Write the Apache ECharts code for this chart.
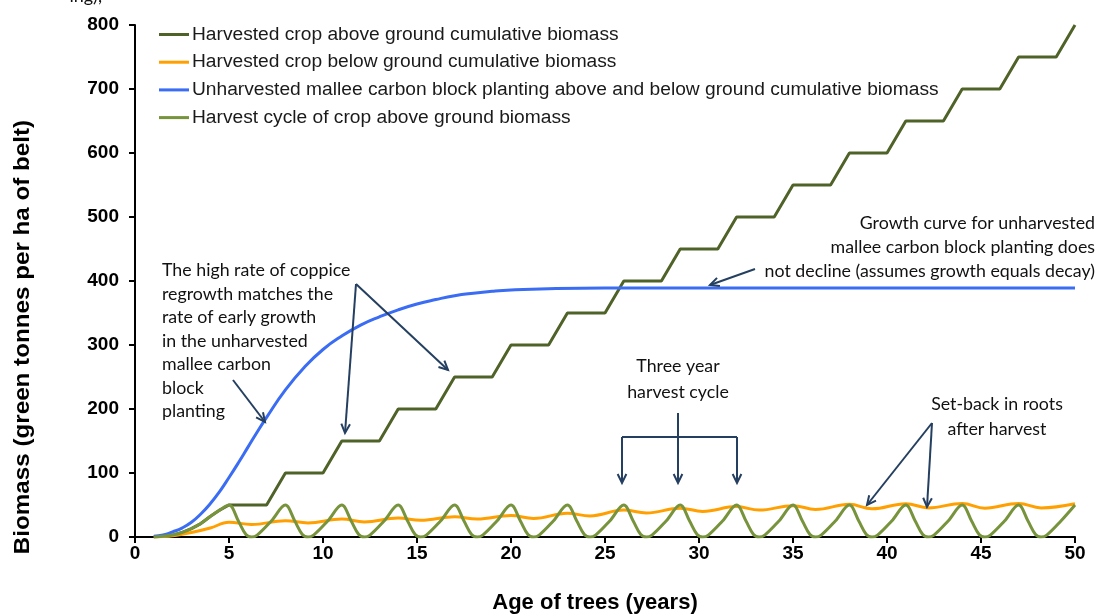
<!DOCTYPE html>
<html>
<head>
<meta charset="utf-8">
<script src="https://cdn.jsdelivr.net/npm/echarts@6/dist/echarts.min.js"></script>
<style>
html,body{margin:0;padding:0;background:#fff;}
#c{width:1101px;height:615px;}
</style>
</head>
<body>
<div id="c"></div>
<script>
// ---- Data: [age (years), biomass (green t/ha)] ----
const xTicks = [0, 5, 10, 15, 20, 25, 30, 35, 40, 45, 50];
const yTicks = [0, 100, 200, 300, 400, 500, 600, 700, 800];

const seriesNames = [
  'Harvested crop above ground cumulative biomass',
  'Harvested crop below ground cumulative biomass',
  'Unharvested mallee carbon block planting above and below ground cumulative biomass',
  'Harvest cycle of crop above ground biomass'
];

const aboveCumulative = [
  [1,0],[1.5,1],[2,3],[2.5,7],[3,13],[3.5,21],[4,32],[4.5,42],[5,50],
  [7,50],[8,100],[10,100],[11,150],[13,150],[14,200],[16,200],[17,250],
  [19,250],[20,300],[22,300],[23,350],[25,350],[26,400],[28,400],[29,450],
  [31,450],[32,500],[34,500],[35,550],[37,550],[38,600],[40,600],[41,650],
  [43,650],[44,700],[46,700],[47,750],[49,750],[50,800]
];

const belowCumulative = [
  [1,0],[2,2],[3,7],[4,14],[5,23],[6.2,19.5],[8,25.5],[9.2,22],[11,28],
  [12.2,23.5],[14,29.5],[15.2,26],[17,31.5],[18.2,28],[20,33.5],[21.2,29],
  [23,37],[24.2,33],[26,42],[27.2,37.5],[29,45],[30.2,40],[32,47.5],
  [33.2,42],[35,49],[36.2,43],[38,51],[39.2,44],[41,52],[42.2,45.5],
  [44,52.5],[45.2,45],[47,52.5],[48.2,45.5],[50,52]
];

const unharvested = [
  [1,1],[1.5,3],[2,8],[2.5,14],[3,23],[3.5,36],[4,52],[4.5,71],[5,93],
  [5.5,116],[6,140],[6.5,164],[7,187],[8,230],[9,265],
  [10,293],[11,314],[12,331],[13,344],[14,355],[15,364],[16,371],[17,377],
  [18,381],[19,384],[20,386],[22,388],[25,389],[30,389],[40,389],[50,389]
];

const harvestCycle = [
  [1,0],[1.5,1],[2,3],[2.5,7],[3,13],[3.5,21],[4,32],[4.5,42],[5,50],
  [5.5,25],[5.9,4],[6.2,0],[6.5,3],[7.25,25],[8,50],
  [8.5,25],[8.9,4],[9.2,0],[9.5,3],[10.25,25],[11,50],
  [11.5,25],[11.9,4],[12.2,0],[12.5,3],[13.25,25],[14,50],
  [14.5,25],[14.9,4],[15.2,0],[15.5,3],[16.25,25],[17,50],
  [17.5,25],[17.9,4],[18.2,0],[18.5,3],[19.25,25],[20,50],
  [20.5,25],[20.9,4],[21.2,0],[21.5,3],[22.25,25],[23,50],
  [23.5,25],[23.9,4],[24.2,0],[24.5,3],[25.25,25],[26,50],
  [26.5,25],[26.9,4],[27.2,0],[27.5,3],[28.25,25],[29,50],
  [29.5,25],[29.9,4],[30.2,0],[30.5,3],[31.25,25],[32,50],
  [32.5,25],[32.9,4],[33.2,0],[33.5,3],[34.25,25],[35,50],
  [35.5,25],[35.9,4],[36.2,0],[36.5,3],[37.25,25],[38,50],
  [38.5,25],[38.9,4],[39.2,0],[39.5,3],[40.25,25],[41,50],
  [41.5,25],[41.9,4],[42.2,0],[42.5,3],[43.25,25],[44,50],
  [44.5,25],[44.9,4],[45.2,0],[45.5,3],[46.25,25],[47,50],
  [47.5,25],[47.9,4],[48.2,0],[48.5,3],[49.25,25],[50,50]
];

const colors = ['#4F6228', '#FFA000', '#3A6CF4', '#77933C'];

// ---- Annotation helpers (pixel geometry of callout arrows) ----
const ARROW = '#243F60';
const annoFont = '17.8px Lato, "Open Sans", sans-serif';
function seg(x1, y1, x2, y2) {
  return {type:'line', silent:true, z:10, shape:{x1, y1, x2, y2},
          style:{stroke:ARROW, lineWidth:2}};
}
function arrow(x1, y1, x2, y2) {
  const a = Math.atan2(y2 - y1, x2 - x1), L = 10, w = 0.45;
  const p1 = [x2 - L*Math.cos(a - w), y2 - L*Math.sin(a - w)];
  const p2 = [x2 - L*Math.cos(a + w), y2 - L*Math.sin(a + w)];
  return [seg(x1, y1, x2, y2),
    {type:'polyline', silent:true, z:10, shape:{points:[p1, [x2, y2], p2]},
     style:{stroke:ARROW, lineWidth:2, fill:null}}];
}
function txt(x, y, text, align, lineHeight) {
  return {type:'text', silent:true, z:10, x, y,
    style:{text, font: annoFont, fill:'#111', align, verticalAlign:'top',
           textAlign:align, textVerticalAlign:'top', lineHeight}};
}
const titleFont = 'bold 22px "Liberation Sans", Arial, sans-serif';

const graphics = [].concat(
  txt(162, 259, 'The high rate of coppice\nregrowth matches the\nrate of early growth\nin the unharvested\nmallee carbon\nblock\nplanting', 'left', 23.5),
  txt(1095, 211, 'Growth curve for unharvested\nmallee carbon block planting does\nnot decline (assumes growth equals decay)', 'right', 24),
  txt(678, 353, 'Three year\nharvest cycle', 'center', 26),
  txt(997, 392, 'Set-back in roots\nafter harvest', 'center', 25),
  arrow(233, 380, 265, 422),
  arrow(356, 284, 345, 433),
  arrow(356, 284, 448, 370),
  arrow(755, 269, 710, 285),
  [seg(678, 413, 678, 437), seg(622, 437, 737, 437)],
  arrow(622, 437, 622, 483),
  arrow(678, 437, 678, 483),
  arrow(737, 437, 737, 483),
  arrow(932, 423, 867, 505),
  arrow(932, 423, 927, 507),
  [{type:'text', silent:true, x:102, y:5,
    style:{text:'ing),', font:'18px Lato, sans-serif', fill:'#111', align:'right',
           verticalAlign:'bottom', textAlign:'right', textVerticalAlign:'bottom'}}],
  [{type:'text', silent:true, x:595, y:603,
    style:{text:'Age of trees (years)', font:titleFont,
           fill:'#000', align:'center', verticalAlign:'middle',
           textAlign:'center', textVerticalAlign:'middle'}}],
  [{type:'text', silent:true, x:23, y:337, rotation:Math.PI/2, scaleX:1.1,
    style:{text:'Biomass (green tonnes per ha of belt)', font:titleFont,
           fill:'#000', align:'center', verticalAlign:'middle',
           textAlign:'center', textVerticalAlign:'middle'}}]
);

const axisCommon = {
  axisLine:{show:true, lineStyle:{color:'#000', width:2}},
  axisTick:{show:true, inside:false, length:6, lineStyle:{color:'#000', width:2}},
  splitLine:{show:false},
  axisLabel:{color:'#000', fontWeight:'bold', fontSize:19,
             fontFamily:'"Liberation Sans", Arial, sans-serif'}
};

const chart = echarts.init(document.getElementById('c'), null, {renderer:'canvas'});
chart.setOption({
  animation:false,
  backgroundColor:'#fff',
  color: colors,
  grid:{left:135, right:26, top:25, bottom:78, containLabel:false},
  legend:{
    orient:'vertical', left:159, top:25, padding:0,
    icon:'rect', itemWidth:30, itemHeight:3, itemGap:8.7,
    data: seriesNames,
    textStyle:{fontSize:19.2, color:'#1a1a1a', fontFamily:'"Liberation Sans", Arial, sans-serif',
               lineHeight:19, padding:[0,0,0,-2]}
  },
  xAxis: Object.assign({type:'value', min:xTicks[0], max:xTicks[xTicks.length-1],
    interval:xTicks[1]-xTicks[0]}, axisCommon,
    {axisLabel:Object.assign({}, axisCommon.axisLabel, {margin:7})}),
  yAxis: Object.assign({type:'value', min:yTicks[0], max:yTicks[yTicks.length-1],
    interval:yTicks[1]-yTicks[0]}, axisCommon,
    {axisLabel:Object.assign({}, axisCommon.axisLabel, {margin:16})}),
  series:[
    {name:seriesNames[0], type:'line', data:aboveCumulative, symbol:'none',
     lineStyle:{width:3, color:colors[0]}, z:2},
    {name:seriesNames[1], type:'line', data:belowCumulative, symbol:'none', smooth:0.4,
     lineStyle:{width:3, color:colors[1]}, z:3},
    {name:seriesNames[2], type:'line', data:unharvested, symbol:'none', smooth:0.5,
     lineStyle:{width:3, color:colors[2]}, z:4},
    {name:seriesNames[3], type:'line', data:harvestCycle, symbol:'none', smooth:0.35,
     lineStyle:{width:3, color:colors[3]}, z:5}
  ],
  graphic: graphics
});
</script>
</body>
</html>
